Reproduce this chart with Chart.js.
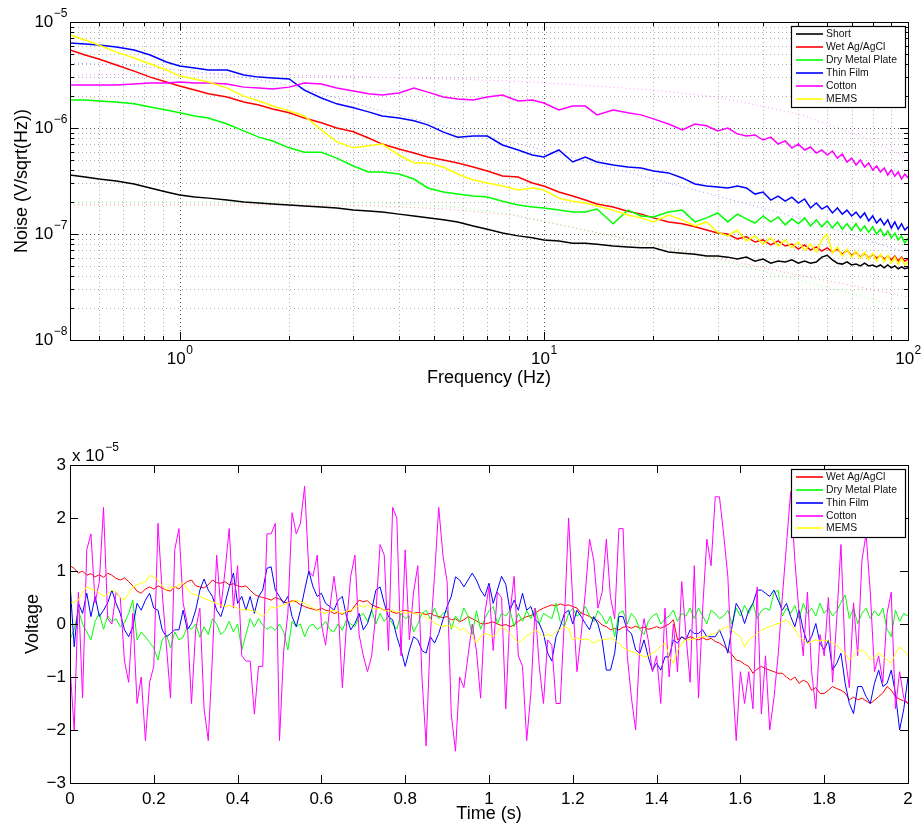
<!DOCTYPE html>
<html>
<head>
<meta charset="utf-8">
<script src="https://cdn.jsdelivr.net/npm/chart.js@4.4.0/dist/chart.umd.min.js"></script>
<style>
  body { margin: 0; background: #fff; }
  #topWrap { position: absolute; left: 0; top: 0; width: 923px; height: 400px; }
  #botWrap { position: absolute; left: 0; top: 420px; width: 923px; height: 405px; }
</style>
</head>
<body>
<div id="topWrap"><canvas id="noise"></canvas></div>
<div id="botWrap"><canvas id="volts"></canvas></div>
<script>
// ---------- spectra (top plot) ----------
var freqs = [0.5,0.55,0.6,0.67,0.75,0.83,0.92,1,1.1,1.2,
  1.35,1.5,1.65,1.8,2,2.2,2.45,2.7,3,3.3,
  3.6,4,4.4,4.8,5.3,5.8,6.4,7,7.7,8.5,
  9.3,10,11,12,13,14,15.5,17,18.5,20,
  22,24,26,28,30,32,34,36,38,40,
  42,44,46,48,50,52,54,56,58,60,
  62,64,66,68,70,72,74,76,78,80,
  82,84,86,88,90,92,94,96,98,100];

var shortNoise = [3.6e-7,3.45e-7,3.3e-7,3.16e-7,2.96e-7,2.72e-7,2.49e-7,2.33e-7,2.23e-7,2.18e-7,
  2.09e-7,2.0e-7,1.96e-7,1.92e-7,1.88e-7,1.84e-7,1.8e-7,1.76e-7,1.68e-7,1.65e-7,
  1.61e-7,1.54e-7,1.48e-7,1.42e-7,1.36e-7,1.3e-7,1.19e-7,1.11e-7,1.02e-7,9.6e-8,
  9.2e-8,8.8e-8,8.6e-8,8.2e-8,8.2e-8,8.0e-8,7.7e-8,7.55e-8,7.4e-8,7.4e-8,
  6.75e-8,6.6e-8,6.45e-8,6.2e-8,6.2e-8,6.05e-8,5.8e-8,6.05e-8,5.55e-8,5.8e-8,
  5.3e-8,5.55e-8,5.45e-8,5.7e-8,5.3e-8,5.55e-8,5.3e-8,5.45e-8,6.05e-8,6.3e-8,
  5.7e-8,5.3e-8,5.2e-8,5.45e-8,5.1e-8,5.2e-8,5.0e-8,5.3e-8,5.0e-8,5.1e-8,
  4.9e-8,5.1e-8,4.8e-8,5.1e-8,4.8e-8,5.0e-8,4.7e-8,4.9e-8,4.7e-8,4.8e-8];

var wetNoise = [5.44e-6,4.88e-6,4.48e-6,3.93e-6,3.44e-6,3.02e-6,2.72e-6,2.49e-6,2.28e-6,2.1e-6,
  1.96e-6,1.76e-6,1.65e-6,1.51e-6,1.39e-6,1.24e-6,1.12e-6,1.0e-6,9.2e-7,8.05e-7,
  7.05e-7,6.34e-7,5.8e-7,5.32e-7,4.99e-7,4.68e-7,4.29e-7,3.93e-7,3.52e-7,3.45e-7,
  3.03e-7,2.84e-7,2.49e-7,2.28e-7,2.09e-7,1.92e-7,1.8e-7,1.64e-7,1.54e-7,1.42e-7,
  1.3e-7,1.25e-7,1.17e-7,1.09e-7,1.02e-7,1.0e-7,9.0e-8,9.4e-8,8.4e-8,8.8e-8,
  7.9e-8,8.6e-8,7.7e-8,8.05e-8,7.2e-8,7.9e-8,7.05e-8,7.55e-8,6.9e-8,7.4e-8,
  6.75e-8,7.2e-8,6.45e-8,7.05e-8,6.3e-8,6.75e-8,6.05e-8,6.6e-8,5.9e-8,6.45e-8,
  5.9e-8,6.3e-8,5.8e-8,6.2e-8,5.7e-8,6.2e-8,5.55e-8,6.05e-8,5.55e-8,5.8e-8];

var dryNoise = [1.84e-6,1.84e-6,1.8e-6,1.76e-6,1.69e-6,1.58e-6,1.48e-6,1.39e-6,1.3e-6,1.24e-6,
  1.09e-6,9.4e-7,8.2e-7,7.55e-7,6.5e-7,5.9e-7,5.9e-7,5.2e-7,4.38e-7,3.85e-7,
  3.85e-7,3.68e-7,3.3e-7,2.72e-7,2.49e-7,2.38e-7,2.28e-7,2.23e-7,2.04e-7,1.88e-7,
  1.8e-7,1.76e-7,1.68e-7,1.61e-7,1.61e-7,1.72e-7,1.25e-7,1.68e-7,1.48e-7,1.45e-7,
  1.61e-7,1.68e-7,1.3e-7,1.42e-7,1.58e-7,1.3e-7,1.54e-7,1.39e-7,1.27e-7,1.48e-7,
  1.3e-7,1.45e-7,1.22e-7,1.39e-7,1.25e-7,1.42e-7,1.19e-7,1.36e-7,1.17e-7,1.33e-7,
  1.14e-7,1.3e-7,1.11e-7,1.25e-7,1.09e-7,1.25e-7,1.07e-7,1.19e-7,1.04e-7,1.17e-7,
  1.0e-7,1.11e-7,9.6e-8,1.07e-7,9.2e-8,1.02e-7,8.8e-8,9.6e-8,8.2e-8,9.2e-8];

var filmNoise = [6.34e-6,6.2e-6,6.07e-6,5.81e-6,5.44e-6,4.88e-6,4.2e-6,3.85e-6,3.69e-6,3.52e-6,
  3.52e-6,3.16e-6,3.02e-6,2.96e-6,2.9e-6,2.28e-6,1.92e-6,1.69e-6,1.55e-6,1.42e-6,
  1.3e-6,1.24e-6,1.17e-6,1.07e-6,9.15e-7,8.2e-7,8.4e-7,8.4e-7,6.91e-7,6.2e-7,
  5.56e-7,5.32e-7,6.2e-7,4.78e-7,5.32e-7,4.78e-7,4.48e-7,4.29e-7,4.2e-7,3.93e-7,
  3.77e-7,3.38e-7,2.96e-7,2.84e-7,2.78e-7,2.72e-7,2.84e-7,2.72e-7,2.38e-7,2.49e-7,
  2.09e-7,2.28e-7,2.04e-7,2.23e-7,1.96e-7,2.14e-7,1.76e-7,1.96e-7,1.72e-7,1.84e-7,
  1.58e-7,1.76e-7,1.54e-7,1.68e-7,1.48e-7,1.61e-7,1.42e-7,1.58e-7,1.33e-7,1.48e-7,
  1.27e-7,1.39e-7,1.22e-7,1.36e-7,1.14e-7,1.3e-7,1.11e-7,1.25e-7,1.09e-7,1.17e-7];

var cottonNoise = [2.54e-6,2.54e-6,2.54e-6,2.54e-6,2.6e-6,2.66e-6,2.66e-6,2.72e-6,2.66e-6,2.66e-6,
  2.6e-6,2.43e-6,2.38e-6,2.33e-6,2.43e-6,2.66e-6,2.6e-6,2.38e-6,2.23e-6,2.1e-6,
  2.05e-6,2.14e-6,2.38e-6,2.18e-6,1.96e-6,1.88e-6,1.84e-6,1.96e-6,2.05e-6,1.8e-6,
  1.84e-6,1.72e-6,1.48e-6,1.61e-6,1.61e-6,1.33e-6,1.48e-6,1.39e-6,1.33e-6,1.22e-6,
  1.09e-6,9.57e-7,1.09e-6,1.05e-6,9.36e-7,1.0e-6,8.8e-7,8.4e-7,8.6e-7,7.7e-7,
  8.2e-7,7.06e-7,7.55e-7,6.47e-7,7.06e-7,6.2e-7,6.62e-7,5.8e-7,6.2e-7,5.56e-7,
  6.07e-7,5.2e-7,5.68e-7,4.78e-7,5.2e-7,4.48e-7,4.99e-7,4.29e-7,4.68e-7,4.02e-7,
  4.38e-7,3.85e-7,4.2e-7,3.6e-7,4.02e-7,3.52e-7,3.85e-7,3.3e-7,3.68e-7,3.38e-7];

var memsNoise = [7.54e-6,6.76e-6,6.07e-6,5.2e-6,4.57e-6,4.02e-6,3.52e-6,3.09e-6,2.9e-6,2.72e-6,
  2.38e-6,2.0e-6,1.8e-6,1.61e-6,1.45e-6,1.3e-6,9.6e-7,7.4e-7,6.5e-7,6.8e-7,
  7.05e-7,5.56e-7,4.68e-7,4.68e-7,4.29e-7,3.68e-7,3.23e-7,3.03e-7,2.84e-7,2.6e-7,
  2.72e-7,2.6e-7,2.18e-7,2.04e-7,1.96e-7,1.84e-7,1.68e-7,1.51e-7,1.42e-7,1.3e-7,
  1.51e-7,1.36e-7,1.19e-7,1.3e-7,1.04e-7,9.6e-8,1.09e-7,8.6e-8,9.6e-8,8.05e-8,
  9.2e-8,7.7e-8,8.8e-8,7.4e-8,8.4e-8,7.05e-8,8.05e-8,6.75e-8,8.8e-8,1.0e-7,
  6.6e-8,7.55e-8,6.2e-8,7.2e-8,6.05e-8,6.9e-8,5.9e-8,6.75e-8,5.8e-8,6.6e-8,
  5.55e-8,6.45e-8,5.45e-8,6.3e-8,5.3e-8,6.05e-8,5.2e-8,5.9e-8,5.1e-8,5.45e-8];

// dotted fitted curves
var fitFreqs = [0.5,0.7,1,1.5,2,2.7,3.5,5.4,8.2,12.6,20,30,50,74,100];
var cottonFit = [3.16e-6,3.2e-6,3.23e-6,3.23e-6,3.16e-6,3.09e-6,3.02e-6,2.9e-6,2.78e-6,2.54e-6,2.28e-6,1.96e-6,1.36e-6,8.4e-7,5.2e-7];
var filmFit = [4.1e-6,3.93e-6,3.52e-6,3.02e-6,2.54e-6,1.92e-6,1.48e-6,1.02e-6,7.37e-7,4.99e-7,3.3e-7,2.28e-7,1.42e-7,9.2e-8,6.6e-8];
var wetFit = [1.88e-7,1.88e-7,1.88e-7,1.88e-7,1.88e-7,1.86e-7,1.84e-7,1.72e-7,1.51e-7,1.11e-7,8.05e-8,5.9e-8,4.1e-8,3.16e-8,2.54e-8];
var dryFit = [2.0e-7,2.0e-7,2.0e-7,2.0e-7,2.0e-7,1.98e-7,1.96e-7,1.84e-7,1.54e-7,1.11e-7,7.87e-8,5.68e-8,3.68e-8,2.6e-8,1.92e-8];

var noiseNames = ['Short', 'Wet Ag/AgCl', 'Dry Metal Plate', 'Thin Film', 'Cotton', 'MEMS'];
var noiseColors = ['#000000', '#ff0000', '#00ff00', '#0000ff', '#ff00ff', '#ffff00'];

// ---------- time series (bottom plot), in units of 1e-5 V, sampled every 0.01 s ----------
var sampleStep = 0.01;
var wetV = [1.1,1.05,0.96,1.0,0.92,0.95,0.89,0.93,0.88,0.96,
  0.92,0.86,0.83,0.87,0.8,0.72,0.62,0.58,0.66,0.7,
  0.66,0.72,0.68,0.64,0.62,0.7,0.66,0.74,0.8,0.83,
  0.72,0.7,0.68,0.74,0.83,0.78,0.77,0.8,0.74,0.76,
  0.72,0.7,0.72,0.64,0.56,0.52,0.5,0.48,0.45,0.5,
  0.47,0.42,0.39,0.44,0.42,0.36,0.33,0.3,0.28,0.26,
  0.3,0.26,0.24,0.2,0.22,0.18,0.24,0.23,0.35,0.45,
  0.42,0.44,0.36,0.33,0.3,0.26,0.28,0.22,0.2,0.24,
  0.26,0.24,0.2,0.22,0.2,0.18,0.2,0.16,0.14,0.12,
  0.14,0.08,0.1,0.04,0.08,0.14,0.1,0.06,0.01,0.0,
  0.02,0.04,0.0,-0.03,-0.01,-0.05,-0.02,0.05,0.1,0.14,
  0.16,0.2,0.26,0.3,0.33,0.36,0.34,0.38,0.35,0.36,
  0.33,0.3,0.2,0.18,0.14,0.1,0.06,-0.02,-0.05,-0.11,
  -0.08,-0.11,-0.06,-0.05,-0.08,-0.04,-0.08,-0.06,-0.1,-0.08,
  -0.05,-0.08,-0.04,0.0,0.08,-0.3,-0.25,-0.28,-0.24,-0.27,
  -0.3,-0.26,-0.3,-0.27,-0.33,-0.36,-0.42,-0.49,-0.58,-0.68,
  -0.7,-0.76,-0.8,-0.93,-0.85,-0.8,-0.84,-0.87,-0.9,-0.93,
  -0.93,-1.0,-1.06,-1.0,-1.12,-1.06,-1.1,-1.25,-1.2,-1.31,
  -1.31,-1.25,-1.18,-1.22,-1.25,-1.3,-1.43,-1.38,-1.43,-1.4,
  -1.45,-1.5,-1.44,-1.37,-1.3,-1.18,-1.25,-1.37,-1.42,-1.45,
  -1.5];

var dryV = [-0.3,-0.1,0.26,0.0,-0.15,-0.3,0.05,0.2,-0.1,0.15,
  0.05,0.1,-0.05,0.02,0.2,0.45,-0.3,-0.15,-0.24,-0.35,
  -0.45,-0.68,-0.3,-0.2,-0.45,-0.15,-0.3,-0.25,-0.05,-0.1,
  0.0,-0.25,-0.05,-0.2,0.1,0.0,-0.2,-0.12,0.05,-0.15,
  0.0,-0.49,-0.2,0.1,-0.05,0.1,-0.02,-0.1,-0.05,-0.12,
  0.0,-0.15,-0.49,0.05,-0.05,0.0,-0.24,-0.05,0.0,-0.1,
  -0.05,0.05,-0.1,-0.15,0.0,-0.12,0.08,0.0,-0.05,0.14,
  0.2,0.05,0.26,0.0,0.2,0.05,0.15,0.0,-0.1,0.2,
  0.1,0.15,-0.15,0.0,0.2,0.26,0.1,0.3,0.1,0.2,
  0.25,-0.1,0.15,0.05,0.3,0.15,-0.2,0.25,-0.1,0.1,
  0.25,0.33,0.0,0.2,0.15,0.26,-0.05,0.2,0.05,0.25,
  0.1,0.3,0.0,0.2,0.15,0.1,0.39,0.05,-0.05,0.2,
  0.3,0.15,0.2,0.33,0.15,0.05,0.25,0.15,0.0,0.15,
  -0.24,0.2,0.25,0.0,0.2,0.1,-0.1,-0.2,0.05,0.15,
  0.2,0.0,0.1,0.15,0.26,0.05,0.2,0.15,0.3,0.1,
  0.3,0.15,0.0,0.26,0.2,0.1,0.15,0.26,0.0,0.3,
  0.15,0.35,0.2,0.39,0.1,0.25,0.3,0.26,0.58,0.64,
  0.15,0.3,0.2,0.35,0.1,0.39,0.2,0.3,0.15,0.39,
  0.2,0.3,0.15,0.25,0.4,0.55,0.1,0.3,0.01,0.2,
  0.3,0.1,0.25,0.15,0.3,-0.1,-0.24,0.26,0.05,0.2,
  0.15];

var filmV = [0.77,-0.43,0.39,0.2,0.58,0.14,0.52,0.14,0.26,0.4,
  0.64,0.39,0.2,-0.11,-0.24,-0.05,0.39,0.26,0.45,0.58,
  0.3,0.26,-0.11,-0.24,-0.18,-0.11,-0.11,0.26,-0.11,0.01,
  0.26,0.64,0.85,0.64,0.52,0.26,0.14,0.39,0.7,0.96,
  0.39,0.52,0.26,0.52,0.2,0.52,0.64,1.05,1.08,0.64,
  0.52,0.39,0.52,0.14,-0.05,0.26,0.64,1.0,0.7,0.52,
  0.58,0.39,0.33,0.26,0.45,0.52,0.14,-0.11,0.01,0.2,
  -0.11,0.01,0.26,0.64,0.7,0.39,0.14,0.08,-0.24,-0.49,
  -0.8,-0.49,-0.24,-0.3,-0.5,-0.55,-0.24,-0.36,-0.18,0.08,
  0.33,0.52,0.89,0.83,0.7,0.83,0.96,0.83,0.64,0.52,
  0.77,0.39,0.64,0.9,0.75,0.26,0.45,0.26,0.58,0.26,
  0.33,0.08,0.01,-0.18,-0.55,-0.7,-0.24,-0.05,0.2,0.26,
  0.0,0.26,0.14,0.01,-0.11,0.14,0.0,-0.3,-0.87,-0.87,
  -0.55,0.14,0.14,-0.11,-0.18,-0.49,-0.55,-0.3,-0.62,-0.87,
  -0.74,-0.87,-0.62,-0.62,-0.3,-0.36,-0.24,-0.3,-0.11,-0.18,
  -0.18,-0.11,-0.24,-0.24,-0.24,-0.11,-0.3,-0.55,-0.05,0.39,
  0.26,0.01,0.26,0.39,0.64,0.64,0.58,0.52,0.64,0.45,
  0.26,0.39,0.14,-0.05,0.26,-0.11,-0.36,-0.24,0.01,-0.36,
  -0.49,-0.3,-0.87,-0.74,-0.55,-1.12,-1.5,-1.69,-1.18,-1.18,
  -1.37,-1.5,-1.12,-0.87,-1.18,-1.12,-0.87,-1.31,-2.0,-1.6,
  -1.0];

var cottonV = [-0.8,-2.0,0.6,-1.4,1.4,1.7,0.4,0.8,2.2,0.1,
  0.0,0.6,0.5,-0.7,-1.1,0.2,-1.5,-1.0,-2.2,-1.1,
  -0.8,1.9,0.6,-0.4,-1.4,1.4,1.8,0.4,0.0,-1.5,
  -0.1,0.3,-1.6,-2.2,-0.6,1.3,0.3,1.0,1.8,0.3,
  1.1,-0.6,-0.7,-0.7,-1.7,-0.8,-0.8,1.7,1.7,1.9,
  -2.2,-0.5,0.2,2.1,1.7,1.9,2.6,1.0,0.9,1.3,
  0.0,-0.4,0.3,0.9,0.3,-1.2,0.0,0.9,1.3,-0.2,
  -0.6,-0.9,-0.6,0.2,1.5,1.3,-0.5,2.2,2.0,-0.6,
  1.4,-0.3,0.6,1.1,-1.0,-2.3,-0.2,0.9,2.2,1.3,
  0.8,-1.7,-2.4,-1.0,-1.2,-0.6,0.0,-0.5,-1.4,0.2,
  0.7,-0.5,0.6,0.5,-1.6,0.2,0.9,-0.6,-0.8,-2.2,
  -1.3,0.3,-0.8,-1.5,-0.3,-0.4,-1.5,-1.5,0.1,2.0,
  0.4,-0.9,-0.2,0.6,1.6,1.2,0.3,0.6,1.6,0.5,
  0.1,1.8,1.8,-0.6,-1.4,-2.0,-0.4,0.1,-0.3,-0.9,
  -0.6,-1.5,0.3,-1.0,0.0,-0.9,0.8,-0.2,-1.1,1.1,
  -1.4,0.3,1.6,1.1,2.4,2.4,1.7,0.9,-0.9,-2.2,
  -0.9,-1.5,-0.9,-1.6,0.7,-1.7,-0.6,-2.0,-1.4,-0.6,
  0.5,1.5,2.5,1.2,0.2,-0.6,0.6,-0.9,-1.6,-0.2,
  -0.6,0.5,-1.1,0.1,1.5,-0.6,-1.2,0.4,-0.6,1.2,
  1.7,0.6,-0.9,-0.6,-1.1,0.2,0.6,-1.6,-0.9,-1.4,
  -1.5];

var memsV = [0.39,0.42,0.45,0.6,0.7,0.66,0.64,0.58,0.52,0.56,
  0.64,0.6,0.5,0.45,0.58,0.7,0.74,0.77,0.8,0.92,
  0.88,0.83,0.72,0.64,0.7,0.68,0.74,0.77,0.66,0.58,
  0.55,0.52,0.48,0.45,0.42,0.39,0.36,0.33,0.35,0.33,
  0.3,0.26,0.28,0.26,0.24,0.2,0.14,0.22,0.33,0.3,
  0.33,0.36,0.39,0.42,0.45,0.42,0.39,0.35,0.3,0.26,
  0.22,0.2,0.24,0.26,0.22,0.2,0.24,0.26,0.3,0.35,
  0.32,0.36,0.3,0.28,0.3,0.26,0.24,0.26,0.22,0.24,
  0.2,0.22,0.2,0.18,0.2,0.12,0.08,0.02,-0.02,-0.05,
  -0.02,-0.06,-0.04,-0.11,-0.08,-0.16,-0.24,-0.36,-0.24,-0.18,
  -0.2,-0.24,-0.16,-0.05,-0.1,-0.18,-0.26,-0.36,-0.3,-0.22,
  -0.18,-0.11,-0.16,-0.24,-0.2,-0.22,-0.14,-0.1,-0.05,-0.08,
  -0.3,-0.26,-0.3,-0.28,-0.3,-0.36,-0.32,-0.28,-0.3,-0.26,
  -0.3,-0.36,-0.45,-0.49,-0.52,-0.55,-0.58,-0.62,-0.6,-0.55,
  -0.5,-0.42,-0.36,-0.6,-0.74,-0.5,-0.36,-0.3,-0.3,-0.28,
  -0.26,-0.24,-0.24,-0.2,-0.18,-0.12,-0.08,-0.05,-0.12,-0.18,
  -0.24,-0.43,-0.3,-0.24,-0.18,-0.11,-0.08,-0.05,-0.02,0.01,
  0.04,0.08,0.01,-0.1,-0.24,-0.3,-0.36,-0.33,-0.3,-0.32,
  -0.3,-0.32,-0.36,-0.4,-0.49,-0.55,-0.68,-0.6,-0.5,-0.49,
  -0.55,-0.68,-0.62,-0.55,-0.6,-0.68,-0.74,-0.55,-0.43,-0.5,
  -0.6];

var voltNames = ['Wet Ag/AgCl', 'Dry Metal Plate', 'Thin Film', 'Cotton', 'MEMS'];
var voltColors = ['#ff0000', '#00ff00', '#0000ff', '#ff00ff', '#ffff00'];
var voltTicksX = [0, 0.2, 0.4, 0.6, 0.8, 1, 1.2, 1.4, 1.6, 1.8, 2];
var voltTicksY = [-3, -2, -1, 0, 1, 2, 3];

// ---------- helpers ----------
var FONT = '"Liberation Sans", Arial, Helvetica, sans-serif';

function pairs(xs, ys) {
  return ys.map(function (v, i) { return { x: xs[i], y: v }; });
}

function logSteps(min, max) {
  var out = [];
  for (var e = Math.floor(Math.log10(min)); e <= Math.ceil(Math.log10(max)); e++) {
    for (var k = 1; k <= 9; k++) {
      var v = Number((k * Math.pow(10, e)).toPrecision(6));
      if (v >= min * 0.9999 && v <= max * 1.0001) out.push(v);
    }
  }
  return out;
}

function isDecade(v) {
  var l = Math.log10(v);
  return Math.abs(l - Math.round(l)) < 1e-9;
}

function powLabel(ctx, exp, x, y, align) {
  ctx.font = '17px ' + FONT;
  var wb = ctx.measureText('10').width;
  ctx.font = '12px ' + FONT;
  var ws = ctx.measureText(exp).width;
  var left = align === 'right' ? x - wb - ws : x - (wb + ws) / 2;
  ctx.textAlign = 'left';
  ctx.textBaseline = 'middle';
  ctx.font = '17px ' + FONT;
  ctx.fillText('10', left, y);
  ctx.font = '12px ' + FONT;
  ctx.fillText(exp, left + wb + 0.5, y - 8);
}

function frame(ctx, a) {
  ctx.setLineDash([]);
  ctx.strokeStyle = '#000';
  ctx.lineWidth = 1;
  ctx.strokeRect(Math.round(a.left) + 0.5, Math.round(a.top) + 0.5,
    Math.round(a.right - a.left), Math.round(a.bottom - a.top));
}

function legendBox(ctx, box, rowY, names, colors) {
  ctx.setLineDash([]);
  ctx.fillStyle = '#fff';
  ctx.fillRect(box[0], box[1], box[2], box[3]);
  ctx.strokeStyle = '#000';
  ctx.lineWidth = 1.2;
  ctx.strokeRect(box[0] + 0.5, box[1] + 0.5, box[2], box[3]);
  ctx.font = '10.4px ' + FONT;
  ctx.textAlign = 'left';
  ctx.textBaseline = 'middle';
  names.forEach(function (n, i) {
    var y = Math.round(rowY[i]);
    ctx.strokeStyle = colors[i];
    ctx.lineWidth = 1.6;
    ctx.beginPath();
    ctx.moveTo(box[0] + 5, y);
    ctx.lineTo(box[0] + 32, y);
    ctx.stroke();
    ctx.fillStyle = '#111';
    ctx.fillText(n, box[0] + 35, y);
  });
}

function title(ctx, text, x, y, rot) {
  ctx.save();
  ctx.translate(x, y);
  if (rot) ctx.rotate(-Math.PI / 2);
  ctx.font = '18px ' + FONT;
  ctx.fillStyle = '#000';
  ctx.textAlign = 'center';
  ctx.textBaseline = 'middle';
  ctx.fillText(text, 0, 0);
  ctx.restore();
}

// ---------- top plot ----------
var noiseFrame = {
  id: 'noiseFrame',
  beforeDatasetsDraw: function (chart) {
    var ctx = chart.ctx, a = chart.chartArea, sx = chart.scales.x, sy = chart.scales.y;
    ctx.save();
    ctx.lineWidth = 1;
    ctx.setLineDash([1, 3]);
    logSteps(sx.min, sx.max).forEach(function (v) {
      var px = Math.round(sx.getPixelForValue(v)) + 0.5;
      ctx.strokeStyle = isDecade(v) ? '#555' : '#b0b0b0';
      ctx.beginPath(); ctx.moveTo(px, a.top); ctx.lineTo(px, a.bottom); ctx.stroke();
    });
    logSteps(sy.min, sy.max).forEach(function (v) {
      var py = Math.round(sy.getPixelForValue(v)) + 0.5;
      ctx.strokeStyle = isDecade(v) ? '#555' : '#b0b0b0';
      ctx.beginPath(); ctx.moveTo(a.left, py); ctx.lineTo(a.right, py); ctx.stroke();
    });
    ctx.restore();
  },
  afterDatasetsDraw: function (chart) {
    var ctx = chart.ctx, a = chart.chartArea, sx = chart.scales.x, sy = chart.scales.y;
    ctx.save();
    frame(ctx, a);
    ctx.strokeStyle = '#000';
    ctx.lineWidth = 1;
    logSteps(sx.min, sx.max).forEach(function (v) {
      var px = Math.round(sx.getPixelForValue(v)) + 0.5, len = isDecade(v) ? 8 : 4;
      ctx.beginPath();
      ctx.moveTo(px, a.bottom); ctx.lineTo(px, a.bottom - len);
      ctx.moveTo(px, a.top); ctx.lineTo(px, a.top + len);
      ctx.stroke();
    });
    logSteps(sy.min, sy.max).forEach(function (v) {
      var py = Math.round(sy.getPixelForValue(v)) + 0.5, len = isDecade(v) ? 8 : 4;
      ctx.beginPath();
      ctx.moveTo(a.left, py); ctx.lineTo(a.left + len, py);
      ctx.moveTo(a.right, py); ctx.lineTo(a.right - len, py);
      ctx.stroke();
    });
    ctx.fillStyle = '#000';
    logSteps(sx.min, sx.max).filter(isDecade).forEach(function (v) {
      powLabel(ctx, String(Math.round(Math.log10(v))), sx.getPixelForValue(v), a.bottom + 19, 'center');
    });
    logSteps(sy.min, sy.max).filter(isDecade).forEach(function (v) {
      powLabel(ctx, '\u2212' + String(-Math.round(Math.log10(v))), a.left - 3, sy.getPixelForValue(v), 'right');
    });
    title(ctx, 'Frequency (Hz)', (a.left + a.right) / 2, 378, false);
    title(ctx, 'Noise (V/sqrt(Hz))', 22, (a.top + a.bottom) / 2, true);
    legendBox(ctx, [791, 26, 114, 81], [34, 47, 60, 73, 86, 99], noiseNames, noiseColors);
    ctx.restore();
  }
};

var noiseSeries = [shortNoise, wetNoise, dryNoise, filmNoise, cottonNoise, memsNoise];
var noiseSets = noiseSeries.map(function (s, i) {
  return {
    label: noiseNames[i], data: pairs(freqs, s), borderColor: noiseColors[i],
    borderWidth: 1.5, order: 6 - i
  };
});
[[cottonFit, '#ff9cff'], [filmFit, '#9a9aff'], [wetFit, '#ff9a9a'], [dryFit, '#9aff9a']].forEach(function (f) {
  noiseSets.push({ label: 'fit', data: pairs(fitFreqs, f[0]), borderColor: f[1], borderWidth: 1, borderDash: [1, 3], order: 10 });
});

new Chart(document.getElementById('noise'), {
  type: 'line',
  data: { datasets: noiseSets },
  options: {
    responsive: true, maintainAspectRatio: false, animation: false, devicePixelRatio: 1,
    layout: { padding: { top: 22, right: 15, left: 0, bottom: 0 } },
    elements: { point: { radius: 0 }, line: { tension: 0 } },
    plugins: { legend: { display: false }, tooltip: { enabled: false } },
    scales: {
      x: {
        type: 'logarithmic', min: 0.5, max: 100,
        grid: { display: false }, border: { display: false }, ticks: { display: false },
        afterFit: function (s) { s.height = 60; }
      },
      y: {
        type: 'logarithmic', min: 1e-8, max: 1e-5,
        grid: { display: false }, border: { display: false }, ticks: { display: false },
        afterFit: function (s) { s.width = 70; }
      }
    }
  },
  plugins: [noiseFrame]
});

// ---------- bottom plot ----------
var voltFrame = {
  id: 'voltFrame',
  afterDatasetsDraw: function (chart) {
    var ctx = chart.ctx, a = chart.chartArea, sx = chart.scales.x, sy = chart.scales.y;
    ctx.save();
    frame(ctx, a);
    ctx.strokeStyle = '#000';
    ctx.lineWidth = 1;
    voltTicksX.forEach(function (v) {
      var px = Math.round(sx.getPixelForValue(v)) + 0.5;
      ctx.beginPath();
      ctx.moveTo(px, a.bottom); ctx.lineTo(px, a.bottom - 8);
      ctx.moveTo(px, a.top); ctx.lineTo(px, a.top + 8);
      ctx.stroke();
    });
    voltTicksY.forEach(function (v) {
      var py = Math.round(sy.getPixelForValue(v)) + 0.5;
      ctx.beginPath();
      ctx.moveTo(a.left, py); ctx.lineTo(a.left + 8, py);
      ctx.moveTo(a.right, py); ctx.lineTo(a.right - 8, py);
      ctx.stroke();
    });
    ctx.fillStyle = '#000';
    ctx.font = '17px ' + FONT;
    ctx.textBaseline = 'middle';
    ctx.textAlign = 'center';
    voltTicksX.forEach(function (v) {
      ctx.fillText(String(v), sx.getPixelForValue(v), a.bottom + 16);
    });
    ctx.textAlign = 'right';
    voltTicksY.forEach(function (v) {
      ctx.fillText(v < 0 ? '\u2212' + (-v) : String(v), a.left - 4, sy.getPixelForValue(v));
    });
    // multiplier
    ctx.textAlign = 'left';
    ctx.fillText('x 10', a.left + 2, a.top - 9);
    var w = ctx.measureText('x 10').width;
    ctx.font = '12px ' + FONT;
    ctx.fillText('\u22125', a.left + 3 + w, a.top - 17);
    title(ctx, 'Time (s)', (a.left + a.right) / 2, 394, false);
    title(ctx, 'Voltage', 33, (a.top + a.bottom) / 2, true);
    legendBox(ctx, [791, 49, 114, 68], [57, 70, 83, 96, 108], voltNames, voltColors);
    ctx.restore();
  }
};

var voltSeries = [wetV, dryV, filmV, cottonV, memsV];
var times = cottonV.map(function (_, i) { return Number((i * sampleStep).toFixed(2)); });
var voltSets = voltSeries.map(function (s, i) {
  return {
    label: voltNames[i], data: pairs(times, s), borderColor: voltColors[i],
    borderWidth: 1, order: 5 - i
  };
});

new Chart(document.getElementById('volts'), {
  type: 'line',
  data: { datasets: voltSets },
  options: {
    responsive: true, maintainAspectRatio: false, animation: false, devicePixelRatio: 1,
    layout: { padding: { top: 45, right: 15, left: 0, bottom: 0 } },
    elements: { point: { radius: 0 }, line: { tension: 0 } },
    plugins: { legend: { display: false }, tooltip: { enabled: false } },
    scales: {
      x: {
        type: 'linear', min: 0, max: 2,
        grid: { display: false }, border: { display: false }, ticks: { display: false },
        afterFit: function (s) { s.height = 42; }
      },
      y: {
        type: 'linear', min: -3, max: 3,
        grid: { display: false }, border: { display: false }, ticks: { display: false },
        afterFit: function (s) { s.width = 70; }
      }
    }
  },
  plugins: [voltFrame]
});
</script>
</body>
</html>
